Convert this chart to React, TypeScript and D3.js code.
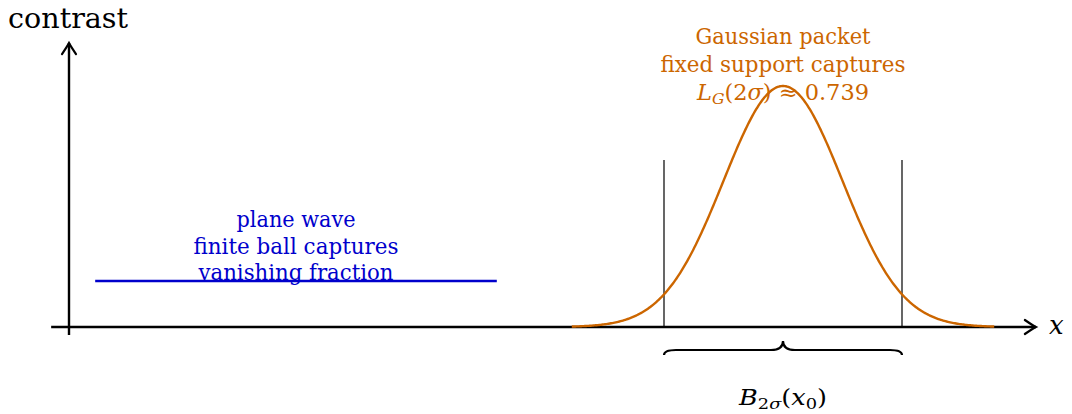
import React from "react";
import * as d3 from "d3";

// ---- data (in diagram units) ----
const xAxisRange = [-0.3, 16.25];
const yAxisRange = [-0.033, 1.178];
const planeWaveX = [0.44, 7.19];
const planeWaveLevel = [0.191];
const gaussianParams = [12, 1, 1]; // center, sigma, amplitude
const gaussianDomain = [8.45, 15.55];
const supportX = [10, 14];
const supportTop = [0.693];
const planeWaveLabel = ["plane wave", "finite ball captures", "vanishing fraction"];
const gaussianLabel = ["Gaussian packet", "fixed support captures"];

const W = 1072;
const H = 414;
const FONT = "'DejaVu Serif', serif";
const BLUE = "#0000cc";
const ORANGE = "#cc6600";

const x = d3.scaleLinear().domain([0, 16]).range([69, 69 + 16 * 59.5]);
const y = d3.scaleLinear().domain([0, 1]).range([327, 86]);

function arrowHead(tx: number, ty: number, dir: "right" | "up") {
  const L = 11, h = 7;
  if (dir === "right") {
    return `M${tx - L},${ty - h} Q${tx - 3},${ty - 1.5} ${tx},${ty} Q${tx - 3},${ty + 1.5} ${tx - L},${ty + h}`;
  }
  return `M${tx - h},${ty + L} Q${tx - 1.5},${ty + 3} ${tx},${ty} Q${tx + 1.5},${ty + 3} ${tx + h},${ty + L}`;
}

export default function App() {
  const [mu, sigma, amp] = gaussianParams;
  const pts = d3.range(gaussianDomain[0], gaussianDomain[1] + 1e-9, 0.02).map((t) => [
    t,
    amp * Math.exp(-((t - mu) ** 2) / (2 * sigma * sigma)),
  ]);
  const line = d3
    .line<number[]>()
    .x((d) => x(d[0]))
    .y((d) => y(d[1]));

  const x0 = x(xAxisRange[0]);
  const x1 = x(xAxisRange[1]);
  const yb = y(yAxisRange[0]);
  const yt = y(yAxisRange[1]);
  const ax = x(0);
  const ay = y(0);

  // brace
  const bl = x(supportX[0]);
  const br = x(supportX[1]);
  const bm = (bl + br) / 2;
  const by = 350;
  const brace = `M${bl},${by + 5} Q${bl},${by} ${bl + 12},${by} L${bm - 12},${by} Q${bm},${by} ${bm},${by - 9} Q${bm},${by} ${bm + 12},${by} L${br - 12},${by} Q${br},${by} ${br},${by + 5}`;

  return (
    <svg
      width={W}
      height={H}
      style={{ position: "fixed", left: 0, top: 0, background: "#fff" }}
      fontFamily={FONT}
    >
      {/* axes */}
      <line x1={x0} y1={ay} x2={x1} y2={ay} stroke="#000" strokeWidth={2.4} />
      <path d={arrowHead(x1, ay, "right")} fill="none" stroke="#000" strokeWidth={2.2} strokeLinecap="round" />
      <line x1={ax} y1={yb} x2={ax} y2={yt} stroke="#000" strokeWidth={2.4} />
      <path d={arrowHead(ax, yt, "up")} fill="none" stroke="#000" strokeWidth={2.2} strokeLinecap="round" />
      <text x={8} y={28} fontSize={27} textLength={120} lengthAdjust="spacingAndGlyphs">contrast</text>
      <text x={1049} y={334} fontSize={26} fontStyle="italic">x</text>

      {/* support lines */}
      {supportX.map((s) => (
        <line key={s} x1={x(s)} x2={x(s)} y1={y(0)} y2={y(supportTop[0])} stroke="#000" strokeWidth={1.2} />
      ))}

      {/* plane wave */}
      <line
        x1={x(planeWaveX[0])}
        x2={x(planeWaveX[1])}
        y1={y(planeWaveLevel[0])}
        y2={y(planeWaveLevel[0])}
        stroke={BLUE}
        strokeWidth={2.4}
      />
      {planeWaveLabel.map((t, i) => (
        <text
          key={t}
          x={296}
          y={[227, 253.5, 280][i]}
          fontSize={21.5}
          fill={BLUE}
          textAnchor="middle"
          textLength={[119, 205, 195][i]}
          lengthAdjust="spacingAndGlyphs"
        >
          {t}
        </text>
      ))}

      {/* gaussian */}
      <path d={line(pts) || ""} fill="none" stroke={ORANGE} strokeWidth={2.4} />
      {gaussianLabel.map((t, i) => (
        <text
          key={t}
          x={783}
          y={44 + i * 28}
          fontSize={21.5}
          fill={ORANGE}
          textAnchor="middle"
          textLength={[175, 245][i]}
          lengthAdjust="spacingAndGlyphs"
        >
          {t}
        </text>
      ))}
      <text x={783} y={100} fontSize={21.5} fill={ORANGE} textAnchor="middle" textLength={172} lengthAdjust="spacingAndGlyphs">
        <tspan fontStyle="italic">L</tspan>
        <tspan fontStyle="italic" fontSize={15} dy={4}>G</tspan>
        <tspan dy={-4}>(2</tspan>
        <tspan fontStyle="italic">σ</tspan>
        <tspan>) ≈ 0.739</tspan>
      </text>

      {/* brace */}
      <path d={brace} fill="none" stroke="#000" strokeWidth={2.2} />
      <text x={783} y={405} fontSize={21.5} textAnchor="middle" textLength={88} lengthAdjust="spacingAndGlyphs">
        <tspan fontStyle="italic">B</tspan>
        <tspan fontSize={15} dy={4}>2</tspan>
        <tspan fontSize={15} fontStyle="italic">σ</tspan>
        <tspan dy={-4}>(</tspan>
        <tspan fontStyle="italic">x</tspan>
        <tspan fontSize={15} dy={4}>0</tspan>
        <tspan dy={-4}>)</tspan>
      </text>
    </svg>
  );
}
